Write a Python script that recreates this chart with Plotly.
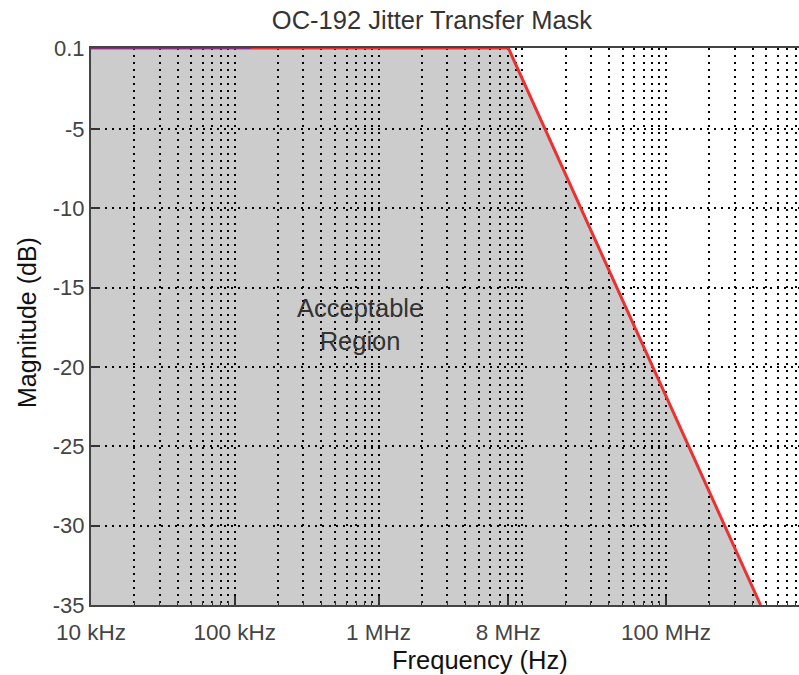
import plotly.graph_objects as go

# Mask corner points (frequency in Hz, magnitude in dB)
mask_freq = [1e4, 8e6, 4.55e8]
mask_mag = [0.1, 0.1, -35]

# Short overlaid segment at the top-left
trace_freq = [1e4, 1.3e5]
trace_mag = [0.1, 0.1]

x_tickvals = [1e4, 1e5, 1e6, 8e6, 1e8]
x_ticktext = ["10 kHz", "100 kHz", "1 MHz", "8 MHz", "100 MHz"]
y_tickvals = [0.1, -5, -10, -15, -20, -25, -30, -35]
y_ticktext = ["0.1", "-5", "-10", "-15", "-20", "-25", "-30", "-35"]

decades = [1e4, 1e5, 1e6, 1e7, 1e8]
minor_vals = [d * k for d in decades for k in range(1, 10)]

W, H = 799, 675
L, R, T, B = 91, 0, 48, 70

fig = go.Figure()

# filled acceptable region (polygon closed at bottom)
fig.add_trace(go.Scatter(
    x=mask_freq + [mask_freq[0]],
    y=mask_mag + [mask_mag[-1]],
    mode="none", fill="toself", fillcolor="rgba(0,0,0,0.2)",
    hoverinfo="skip", showlegend=False))

fig.add_trace(go.Scatter(
    x=mask_freq, y=mask_mag, mode="lines",
    line=dict(color="#ee3030", width=3), showlegend=False))

fig.add_trace(go.Scatter(
    x=trace_freq, y=trace_mag, mode="lines",
    line=dict(color="#4a2fb0", width=1.5), opacity=0.8, showlegend=False))

GD = "2px,5px"
fig.update_xaxes(
    type="log", range=[4, 4 + (W - L) / 143.75], automargin=False,
    tickvals=x_tickvals, ticktext=x_ticktext,
    ticks="inside", ticklen=9, tickwidth=2, tickcolor="#333",
    ticklabelstandoff=6,
    showline=True, linecolor="#444", linewidth=2, mirror=True,
    showgrid=True, gridcolor="black", griddash=GD, gridwidth=1.5,
    minor=dict(tickvals=minor_vals, showgrid=True, gridcolor="black",
               griddash=GD, gridwidth=1.5, ticks="inside", ticklen=4,
               tickcolor="#333", tickwidth=1),
    tickfont=dict(family="Liberation Sans, Arial", size=22.5, color="#444"),
    zeroline=False,
)
fig.update_yaxes(
    range=[-35, 0.1], automargin=False,
    tickvals=y_tickvals, ticktext=y_ticktext,
    ticks="inside", ticklen=9, tickwidth=2, tickcolor="#333",
    showline=True, linecolor="#444", linewidth=2,
    showgrid=True, gridcolor="black", griddash=GD, gridwidth=1.5,
    tickfont=dict(family="Liberation Sans, Arial", size=22, color="#444"),
    zeroline=False,
)

def px(x):
    return (x - L) / (W - L - R)

def py(y):
    return (H - B - y) / (H - T - B)

fig.update_layout(
    width=W, height=H,
    margin=dict(l=L, r=R, t=T, b=B),
    paper_bgcolor="white", plot_bgcolor="white",
    font=dict(family="Liberation Sans, Arial"),
    title=dict(text="OC-192 Jitter Transfer Mask", x=432 / W, xanchor="center",
               y=1 - 20 / H, yanchor="middle",
               font=dict(size=25.5, color="#333")),
    annotations=[
        dict(text="Frequency (Hz)", x=px(480), y=py(660), xref="paper", yref="paper",
             showarrow=False, font=dict(size=25.5, color="#111"),
             xanchor="center", yanchor="middle"),
        dict(text="Magnitude (dB)", x=px(27), y=py(323), xref="paper", yref="paper",
             showarrow=False, font=dict(size=25, color="#111"), textangle=-90,
             xanchor="center", yanchor="middle"),
        dict(text="Acceptable<br>Region", x=px(360), y=py(324), xref="paper", yref="paper",
             showarrow=False, font=dict(size=25.5, color="#333"),
             xanchor="center", yanchor="middle"),
    ],
)

fig.write_html("out.html",
               config={"displayModeBar": False},
               post_script="document.body.style.margin='0px';"
                           "document.body.style.overflow='hidden';")
